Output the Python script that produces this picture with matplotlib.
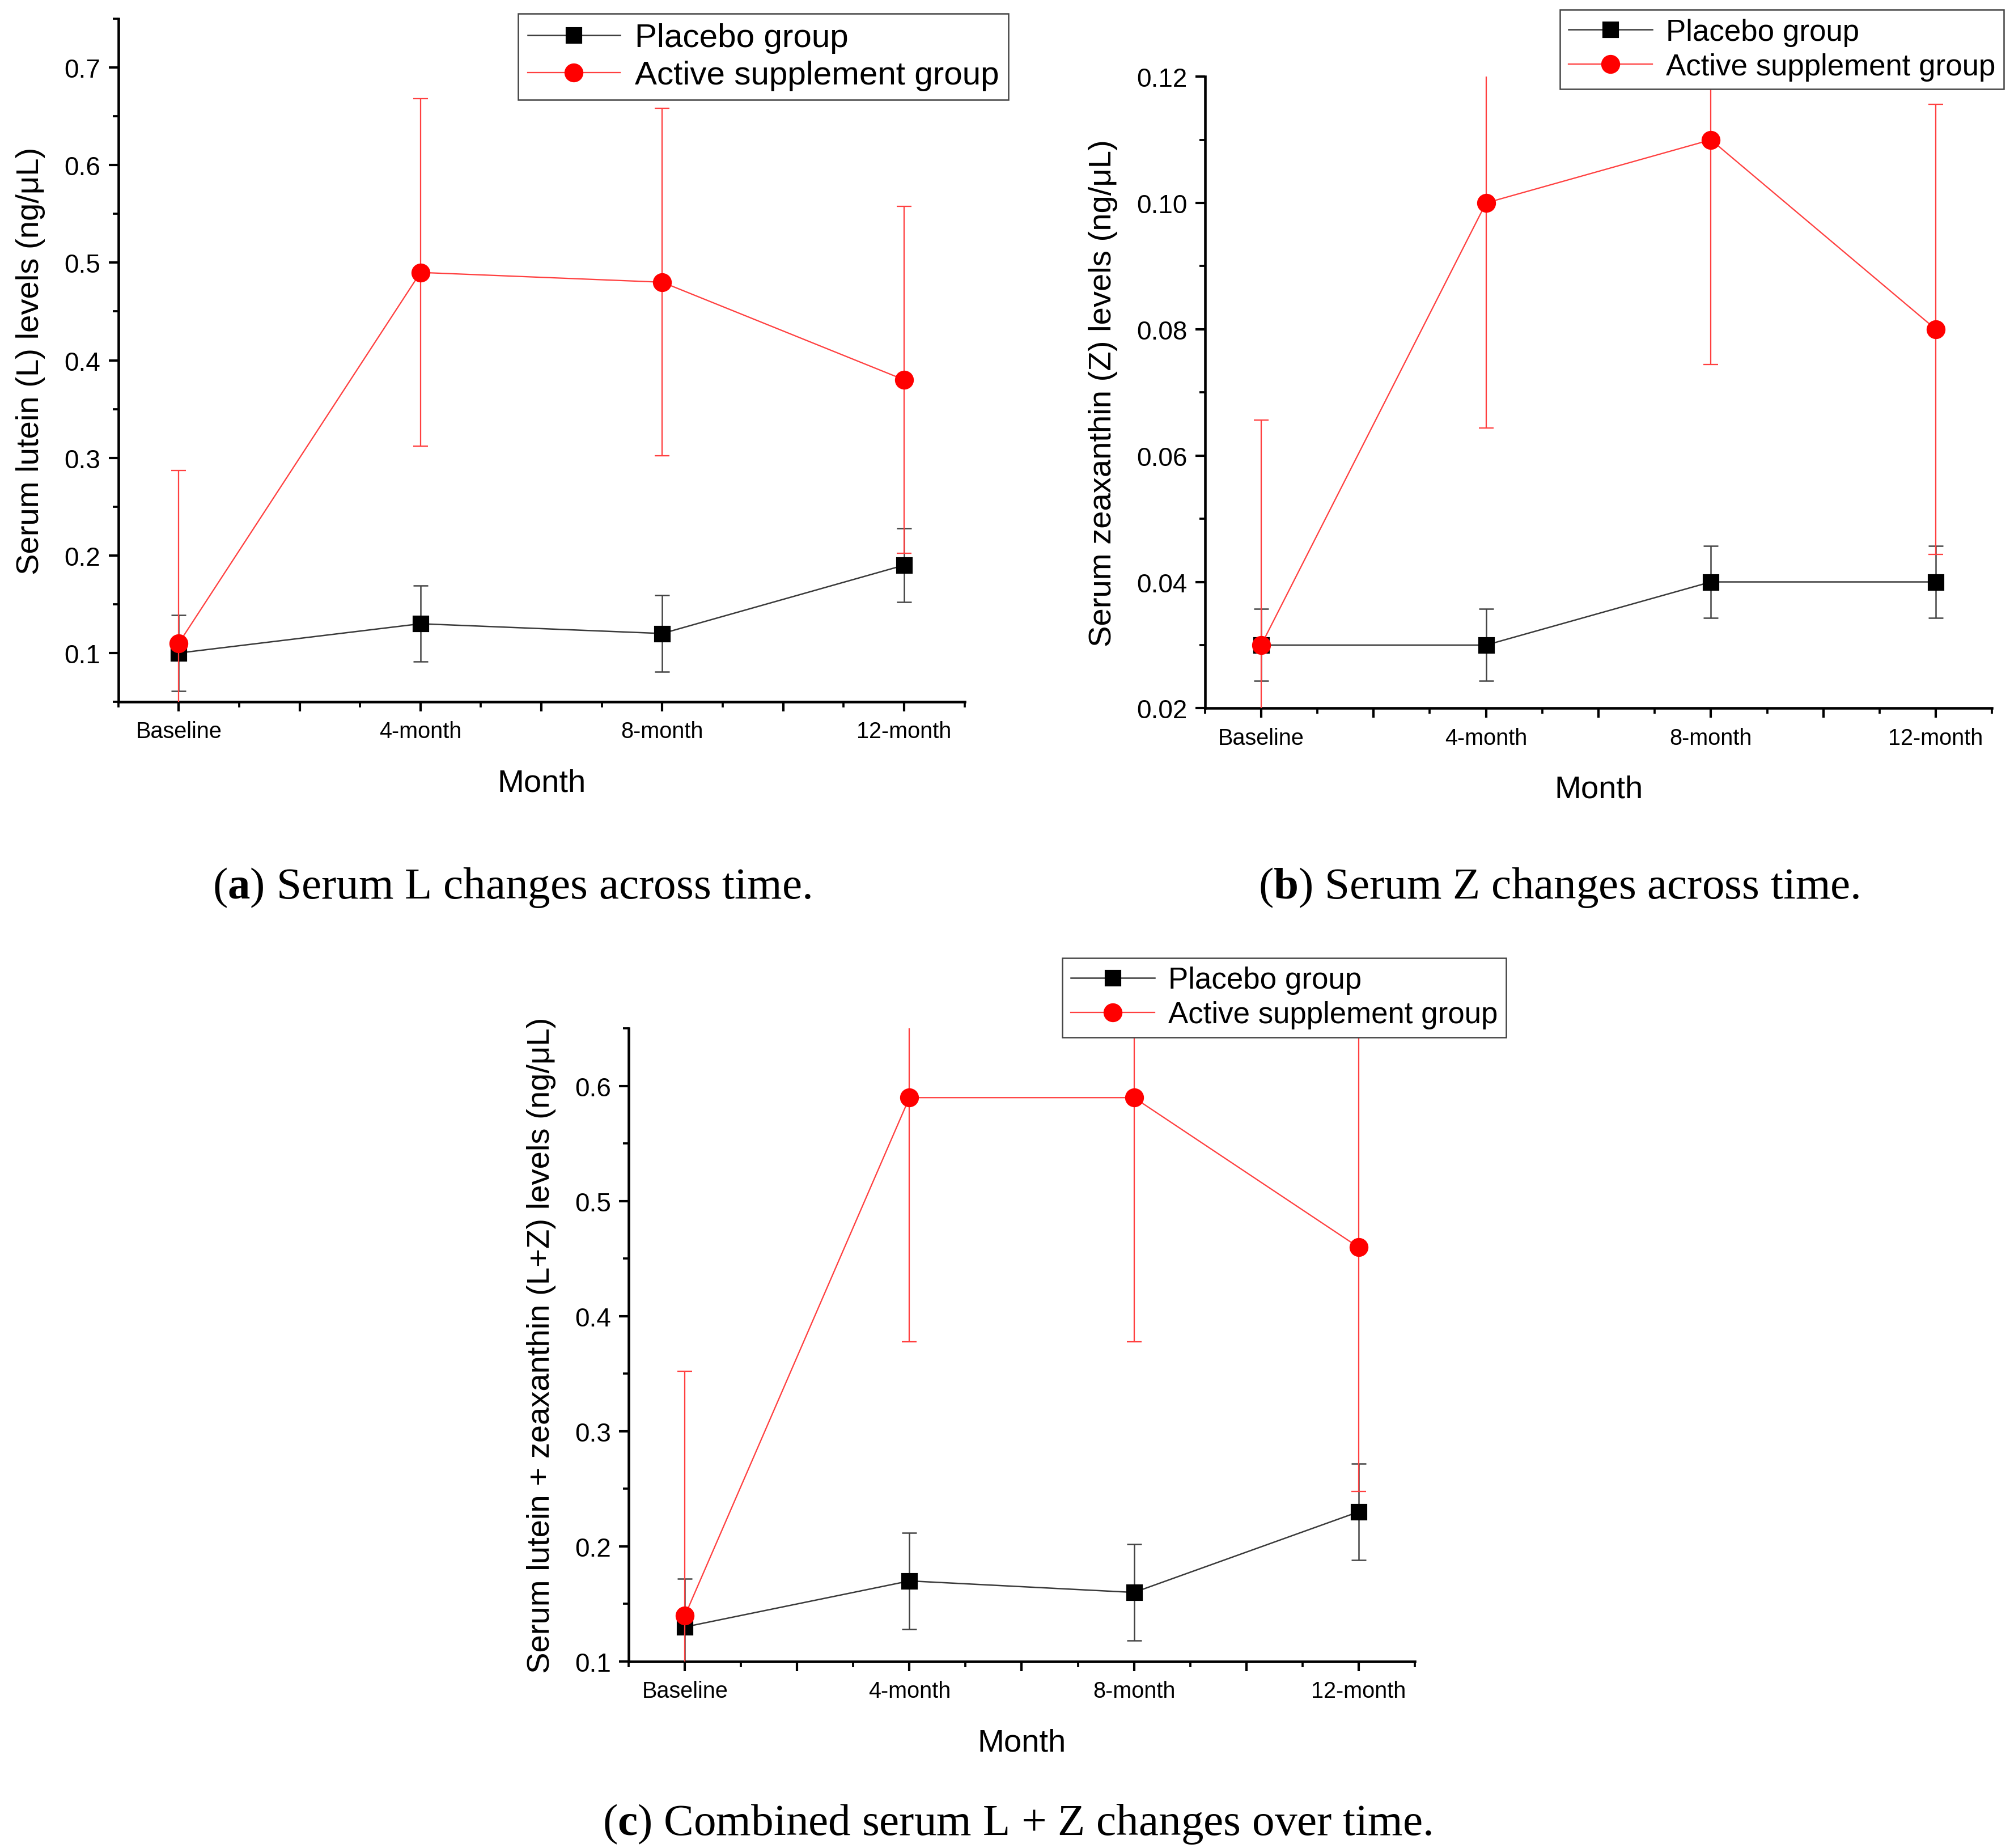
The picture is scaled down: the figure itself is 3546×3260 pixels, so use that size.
import matplotlib
matplotlib.use('Agg')
import matplotlib.pyplot as plt
from matplotlib.ticker import MultipleLocator

months = ['Baseline', '4-month', '8-month', '12-month']

# panel a: serum lutein
lut_placebo = [0.10, 0.13, 0.12, 0.19]
lut_placebo_err = [0.039, 0.039, 0.039, 0.038]
lut_active = [0.11, 0.49, 0.48, 0.38]
lut_active_err = [0.177, 0.178, 0.178, 0.178]

# panel b: serum zeaxanthin
zea_placebo = [0.03, 0.03, 0.04, 0.04]
zea_placebo_err = [0.0057, 0.0057, 0.0057, 0.0057]
zea_active = [0.03, 0.10, 0.11, 0.08]
zea_active_err = [0.0356, 0.0356, 0.0356, 0.0356]

# panel c: lutein + zeaxanthin
lz_placebo = [0.13, 0.17, 0.16, 0.23]
lz_placebo_err = [0.042, 0.042, 0.042, 0.042]
lz_active = [0.14, 0.59, 0.59, 0.46]
lz_active_err = [0.212, 0.212, 0.212, 0.212]

plt.rcParams['mathtext.fontset'] = 'custom'
plt.rcParams['mathtext.rm'] = 'Liberation Serif'
plt.rcParams['mathtext.bf'] = 'Liberation Serif:bold'

W, H = 1563, 1437  # layout measured on the reduced picture
fig = plt.figure(figsize=(3546 / 300, 3261 / 300), dpi=300)
sans = ['Liberation Sans', 'DejaVu Sans']
serif = ['Liberation Serif', 'DejaVu Serif']


def frac(left, top, right, bottom):
    return [left / W, 1 - bottom / H, (right - left) / W, (bottom - top) / H]


def panel(rect, placebo, p_err, active, a_err, ylim, major, minor, ylabel,
          fmt, leg_xy, leg_size):
    ax = fig.add_axes(frac(*rect))
    x = list(range(len(months)))
    p = ax.errorbar(x, placebo, yerr=p_err, color='#3a3a3a', ecolor='#444444',
                    lw=0.6, elinewidth=0.6, capsize=3.2, capthick=0.6,
                    marker='s', ms=6, mfc='black', mec='black', zorder=2)
    a = ax.errorbar(x, active, yerr=a_err, color='#ff4040', ecolor='#ff4040',
                    lw=0.55, elinewidth=0.55, capsize=3.2, capthick=0.55,
                    marker='o', ms=7, mfc='red', mec='red', zorder=3)
    ax.set_xlim(-0.25, 3.25)
    ax.set_ylim(*ylim)
    ax.xaxis.set_major_locator(MultipleLocator(0.5))
    ax.xaxis.set_minor_locator(MultipleLocator(0.25))
    ax.xaxis.set_major_formatter(
        plt.FuncFormatter(lambda v, pos: months[int(round(v))]
                          if abs(v - round(v)) < 1e-6 and 0 <= round(v) < 4 else ''))
    ax.yaxis.set_major_locator(MultipleLocator(major))
    ax.yaxis.set_minor_locator(MultipleLocator(minor))
    ax.yaxis.set_major_formatter(plt.FormatStrFormatter(fmt))
    for s in ['top', 'right']:
        ax.spines[s].set_visible(False)
    for s in ['left', 'bottom']:
        ax.spines[s].set_linewidth(1.1)
    ax.tick_params(which='major', direction='out', length=4, width=1.0)
    ax.tick_params(which='minor', direction='out', length=2.5, width=0.9)
    ax.tick_params(axis='x', labelsize=9.5, pad=4)
    ax.tick_params(axis='y', labelsize=11, pad=3.5)
    for lab in ax.get_xticklabels() + ax.get_yticklabels():
        lab.set_family(sans)
    ax.set_xlabel('Month', fontsize=13.5, family=sans, labelpad=11)
    ax.set_ylabel(ylabel, fontsize=13.5, family=sans, labelpad=8)
    leg = ax.legend([p[0], a[0]], ['Placebo group', 'Active supplement group'],
                    loc='upper left', bbox_to_anchor=(leg_xy[0] / W, 1 - leg_xy[1] / H),
                    bbox_transform=fig.transFigure, borderaxespad=0,
                    fancybox=False, framealpha=1, edgecolor='#444444',
                    prop={'family': sans, 'size': leg_size}, handlelength=2.8,
                    handletextpad=0.45, labelspacing=0.2, borderpad=0.28)
    leg.get_frame().set_linewidth(0.6)
    return ax


panel((92, 15, 750, 546), lut_placebo, lut_placebo_err, lut_active, lut_active_err,
      (0.05, 0.75), 0.1, 0.05, 'Serum lutein (L) levels (ng/\u03bcL)', '%.1f', (403, 11), 14)
panel((937, 60, 1549, 551), zea_placebo, zea_placebo_err, zea_active, zea_active_err,
      (0.02, 0.12), 0.02, 0.01, 'Serum zeaxanthin (Z) levels (ng/\u03bcL)', '%.2f', (1213, 8), 12.7)
panel((489, 800, 1100, 1292), lz_placebo, lz_placebo_err, lz_active, lz_active_err,
      (0.1, 0.65), 0.1, 0.05, 'Serum lutein + zeaxanthin (L+Z) levels (ng/\u03bcL)', '%.1f', (826, 745), 12.7)

captions = [
    ('a', ' Serum L changes across time.', 398, 690),
    ('b', ' Serum Z changes across time.', 1212, 690),
    ('c', ' Combined serum L + Z changes over time.', 791, 1418),
]
for letter, text, cx, cy in captions:
    fig.text(cx / W, 1 - cy / H, r'($\mathbf{' + letter + r'}$)' + text,
             ha='center', va='center', fontsize=19, family=serif)

fig.savefig('out.png', dpi=300)
